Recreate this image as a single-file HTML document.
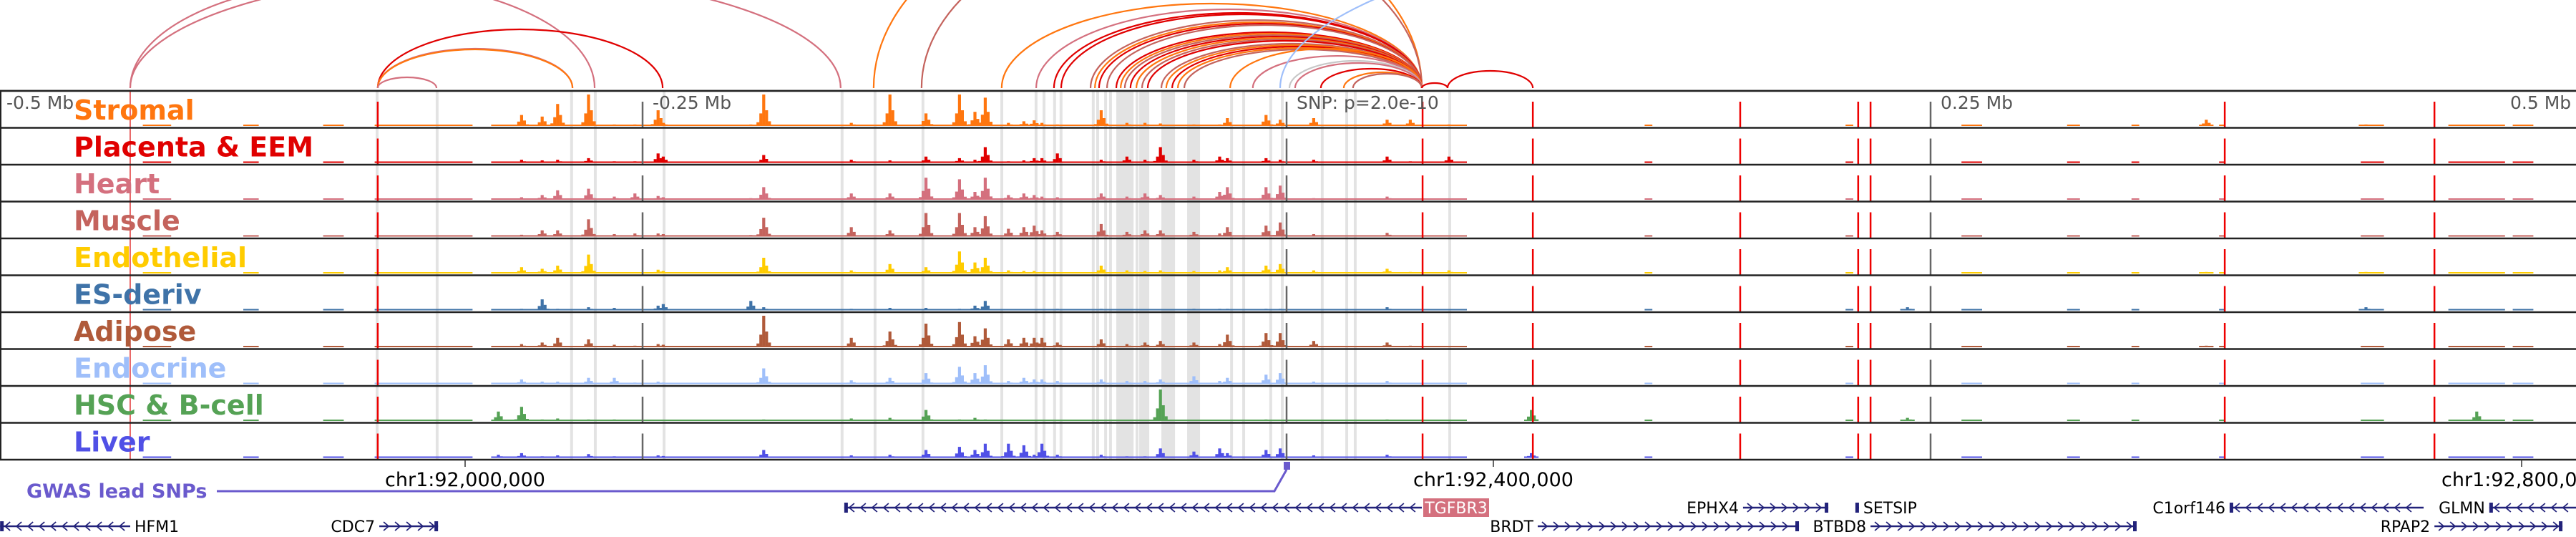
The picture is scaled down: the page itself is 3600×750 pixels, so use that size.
<!DOCTYPE html>
<html><head><meta charset="utf-8"><style>
html,body{margin:0;padding:0;background:#fff;}
svg{display:block;}
text{font-family:"DejaVu Sans","Liberation Sans",sans-serif;}
</style></head><body>
<svg id="chart" width="3600" height="750" viewBox="0 0 3600 750" xmlns="http://www.w3.org/2000/svg">
<g id="bands"></g>
<g id="arcs"></g>
<g id="bars"></g>
<g id="vlines"></g>
<g id="frame"></g>
<g id="labels"></g>
<g id="bottom"></g>
</svg>
<script>
// ---- data ----
const trackNames = ["Stromal","Placenta & EEM","Heart","Muscle","Endothelial","ES-deriv","Adipose","Endocrine","HSC & B-cell","Liver"];
const peakPos = [-306,-297,-289,-283,-271,-261,-253,-244,-242,-208,-203,-169,-154,-140,-127,-121,-117,-108,-102,-98,-95,-89,-72,-62,-55,-49,-36,-26,-23,-8,-2.5,10.5,39,48,63,95,241,357,419,462];
const stromal = [.02,.35,.3,.7,1,.05,.05,.5,.1,.05,1,.1,1,.4,1,.45,.9,.1,.15,.18,.1,.05,.5,.1,.1,.08,.05,.05,.25,.35,.2,.25,.2,.2,.05,0,0,.2,.05,.03];
const placenta = [.02,.1,.08,.1,.15,.05,.05,.3,.2,.02,.25,.1,.08,.2,.15,.1,.5,.05,.08,.15,.15,.3,.1,.2,.1,.5,.1,.2,.15,.15,.1,.1,.2,.05,.2,0,0,0,0,0];
const heart = [.03,.08,.15,.3,.35,.1,.2,.12,.08,.05,.4,.2,.2,.7,.65,.25,.7,.15,.2,.15,.1,.08,.2,.1,.2,.15,.1,.25,.4,.4,.45,.05,.1,.03,.03,0,0,0,0,0];
const muscle = [.03,.06,.2,.2,.55,.08,.1,.1,.08,.05,.6,.3,.2,.75,.75,.3,.65,.25,.3,.35,.2,.15,.4,.15,.2,.2,.15,.1,.3,.35,.45,.08,.12,.03,.03,0,0,0,0,0];
const endothelial = [.02,.2,.15,.25,.6,.03,.03,.12,.08,.02,.5,.1,.3,.2,.7,.35,.5,.1,.08,.08,.05,.03,.25,.1,.08,.1,.08,.1,.2,.25,.3,.1,.15,.05,.1,0,0,.05,.05,0];
const esDeriv = [.03,.05,.35,.05,.1,.08,.03,.15,.2,.3,.1,.05,.08,.08,.05,.15,.3,.03,.03,.03,.03,.05,.05,.03,.03,.03,.05,.05,.05,.05,.05,.03,.1,.03,.03,0,.1,0,.1,0];
const adipose = [.03,.1,.15,.3,.25,.08,.05,.1,.08,.03,1,.3,.5,.75,.8,.35,.6,.25,.3,.3,.3,.15,.25,.1,.15,.2,.15,.1,.4,.45,.45,.2,.15,.05,.03,0,0,.05,0,0];
const endocrine = [.03,.15,.08,.08,.2,.2,.05,.08,.05,.03,.5,.12,.2,.35,.55,.35,.6,.1,.2,.15,.15,.1,.15,.1,.1,.15,.25,.1,.2,.3,.35,.08,.1,.03,.03,0,0,0,0,0];
const hsc = [.3,.45,.05,.08,.05,.05,.03,.03,.03,.02,.05,.08,.1,.35,.05,.1,.05,.03,.03,.03,.03,.02,.03,.03,.03,1,.03,.03,.03,.05,.03,.03,.05,.03,.03,.35,.1,0,0,.3];
const liver = [.1,.15,.05,.08,.12,.05,.03,.08,.06,.02,.25,.08,.1,.25,.35,.25,.45,.45,.4,.1,.45,.1,.1,.05,.05,.3,.2,.3,.15,.25,.3,.08,.1,.03,.03,.15,0,0,0,0];
const bgStart = [-444,-405,-374,-354,-308,139,217,262,303,328,362,417,451,476];
const bgEnd   = [-433,-399,-366,-316,70,142,220,270,308,331,364,426,473,484];
const bandStart = [-353.6,-330.3,-278.1,-268.9,-242.2,-173.1,-160.3,-141.7,-111.1,-97.8,-94.7,-90.6,-88.1,-75.6,-73.9,-70.8,-68.9,-66.1,-58.6,-57.2,-48.6,-38.6,-21.9,-17.2,-6.7,-2.2,13.3,22.8,26.1,62.8];
const bandEnd   = [-352.5,-329.2,-277.0,-267.8,-241.1,-172.0,-159.2,-140.6,-110.0,-96.7,-93.6,-89.5,-87.0,-74.5,-72.8,-69.7,-67.8,-59.4,-57.5,-53.3,-43.3,-33.6,-20.8,-16.1,-5.6,-1.1,14.4,23.9,27.2,63.9];
const redLines = [-352.8,52.8,95.6,176.1,221.9,226.7,364.2,445.6];
const grayLines = [-250,0,250];
const arcStart = [-448.9,-448.9,-352.8,-352.8,-352.8,-352.8,-160.3,-141.7,-110.6,-97.2,-90.3,-87.5,-76.1,-74.4,-72.8,-69.7,-66.1,-64.4,-62.8,-60.6,-58.3,-56.1,-53.9,-48.6,-46.7,-44.4,-42.2,-39.7,-21.9,-13.1,1.1,3.3,13.3,22.2,25.8,52.5,62.5,-2.5];
const arcEnd   = [-268.6,-173.1,-242.2,-277.2,-277.2,-330,52.5,52.5,52.5,52.5,52.5,52.5,52.5,52.5,52.5,52.5,52.5,52.5,52.5,52.5,52.5,52.5,52.5,52.5,52.5,52.5,52.5,52.5,52.5,52.5,52.5,52.5,52.5,52.5,52.5,62.5,95.6,553];
const arcScore = [150,160,82,55,54,15,260,230,118,110,105,103,95,92,90,88,78,76,74,72,70,68,66,62,60,58,56,54,55,45,38,35,27,22,20,7,24,250];
const arcTissue = [2,2,1,2,0,2,0,3,0,2,1,1,3,0,1,3,1,0,3,1,0,3,1,3,0,1,0,3,0,2,10,2,1,0,3,1,1,7];
const axisTicks = [92000000,92400000,92800000];
const axisLabels = ["chr1:92,000,000","chr1:92,400,000","chr1:92,800,000"];
const topTickKb = [-500,-250,0,250,500];
const topTickLabels = ["-0.5 Mb","-0.25 Mb","SNP: p=2.0e-10","0.25 Mb","0.5 Mb"];
const geneNames = ["TGFBR3","EPHX4","SETSIP","C1orf146","GLMN","HFM1","CDC7","BRDT","BTBD8","RPAP2"];
const geneStart = [-171.7,177.2,221.1,366.1,466.9,-499.4,-352.2,97.5,226.7,445.6];
const geneEnd   = [52.5,210.3,222.2,441.4,501.0,-448.9,-329.4,198.9,330.0,495.3];
const geneStrand = [-1,1,1,-1,-1,-1,1,1,1,1];
const geneRow = [0,0,0,0,0,1,1,1,1,1];
const snpKb = [0];

// ---- scales ----
const SNPX = 1798, PXKB = 3.6;
const x = kb => SNPX + kb * PXKB;
const xg = pos => 650 + (pos - 92000000) / 1e6 * 3592.5;
const TOP = 127, TH = 51.5, NT = 10, MAXH = 44;
const trackTop = i => TOP + i * TH;
const colors = ["#ff760f","#e00000","#d4707e","#c4635d","#ffcc00","#3f73a8","#b05a3a","#9fbffa","#55a255","#5050e6"];
const arcColors = colors.concat(["#c8c8c8"]);
const series = [stromal,placenta,heart,muscle,endothelial,esDeriv,adipose,endocrine,hsc,liver];
const NS = "http://www.w3.org/2000/svg";
function mk(tag, parent, attrs){ const e=document.createElementNS(NS,tag); for(const k in attrs) e.setAttribute(k,attrs[k]); parent.appendChild(e); return e; }
const gB=document.getElementById('bands'), gA=document.getElementById('arcs'), gR=document.getElementById('bars'),
      gV=document.getElementById('vlines'), gF=document.getElementById('frame'), gL=document.getElementById('labels'),
      gBot=document.getElementById('bottom');
const BOT = TOP + NT*TH;

// bands
for(let i=0;i<bandStart.length;i++){
  const r=mk('rect',gB,{x:x(bandStart[i]),y:TOP,width:Math.max(2.5,x(bandEnd[i])-x(bandStart[i])),height:BOT-TOP,fill:'#e3e3e3'});
  
  
}
// arcs
for(let i=0;i<arcStart.length;i++){
  const x1=x(arcStart[i]), x2=x(arcEnd[i]), y=123;
  const p=mk('path',gA,{d:`M${x1},${y} A${(x2-x1)/2},${arcScore[i]} 0 0 1 ${x2},${y}`,fill:'none',stroke:arcColors[arcTissue[i]],'stroke-width':2.2});
  
  
}
// bars
const offs=[-8,-4,0,4,8], facs=[.12,.4,1,.5,.15];
for(let t=0;t<NT;t++){
  const base=trackTop(t)+TH-2.5;
  const g=mk('g',gR,{fill:colors[t]});
  
  
  for(let s=0;s<bgStart.length;s++){
    mk('rect',g,{x:x(bgStart[s]),y:base-2,width:x(bgEnd[s])-x(bgStart[s]),height:2});
  }
  for(let p=0;p<peakPos.length;p++){
    const v=series[t][p]; if(!v) continue;
    for(let k=0;k<offs.length;k++){
      const h=Math.max(2,v*facs[k]*MAXH);
      const b=mk('rect',g,{x:x(peakPos[p])+offs[k]-2,y:base-h,width:4.2,height:h});
      
      
    }
  }
}
// vertical lines
function dashed(kb,color,w){
  const l=mk('line',gV,{x1:x(kb),x2:x(kb),y1:TOP,y2:BOT,stroke:color,'stroke-width':w,'stroke-dasharray':'36 15.5','stroke-dashoffset':'-15'});
  return l;
}
redLines.forEach(k=>{const l=dashed(k,'#ee0000',2.5);  });
grayLines.forEach(k=>{const l=dashed(k,'#666',2.5);  });
const sl=mk('line',gV,{x1:x(-448.9),x2:x(-448.9),y1:TOP,y2:BOT,stroke:'#e03030','stroke-width':1.5});


// frames
mk('line',gF,{x1:0,x2:3600,y1:TOP-1.5,y2:TOP-1.5,stroke:'#ccc','stroke-width':1});
for(let i=0;i<=NT;i++){
  const l=mk('line',gF,{x1:0,x2:3600,y1:TOP+i*TH,y2:TOP+i*TH,stroke:'#222','stroke-width':2.5});
  
  
}
mk('line',gF,{x1:1,x2:1,y1:TOP,y2:BOT,stroke:'#222','stroke-width':2});
// top tick labels
for(let i=0;i<topTickKb.length;i++){
  let tx=x(topTickKb[i])+ (i===0?11:(i===4?-90:14));
  const t=mk('text',gL,{x:tx,y:TOP+25,'font-size':25,fill:'#555'});
  t.textContent=topTickLabels[i];
  
  
}
// track labels
for(let i=0;i<NT;i++){
  const t=mk('text',gL,{x:103,y:trackTop(i)+40,'font-size':38,'font-weight':'bold',fill:colors[i]});
  t.textContent=trackNames[i];
  
  
}
// genome axis
for(let i=0;i<axisTicks.length;i++){
  const gx=xg(axisTicks[i]);
  mk('line',gBot,{x1:gx,x2:gx,y1:BOT,y2:BOT+10,stroke:'#333','stroke-width':1.5});
  const t=mk('text',gBot,{x:gx,y:BOT+37,'font-size':27,'text-anchor':'middle',fill:'#000'});
  t.textContent=axisLabels[i];
  
  
}
// GWAS
const gw=mk('text',gBot,{x:37,y:695,'font-size':27,'font-weight':'bold',fill:'#6a5acd'});
gw.textContent='GWAS lead SNPs';


snpKb.forEach(k=>{
  const sx=x(k);
  const p=mk('path',gBot,{d:`M303,686 L${sx-17},686 L${sx},656`,fill:'none',stroke:'#6a5acd','stroke-width':3});
  
  
  const m=mk('rect',gBot,{x:sx-4,y:645,width:9,height:11,fill:'#6a5acd'});
  
  
});
// genes
const rowY=[709,735];
for(let i=0;i<geneNames.length;i++){
  const y=rowY[geneRow[i]], x1=Math.max(0,x(geneStart[i])), x2=Math.min(3600,x(geneEnd[i]));
  const g=mk('g',gBot,{});
  
  
  mk('line',g,{x1:x1,x2:x2,y1:y,y2:y,stroke:'#22227a','stroke-width':2.5});
  let d='';
  for(let cx=x1+10;cx<x2-6;cx+=16){
    d+= geneStrand[i]<0 ? `M${cx+4},${y-6} L${cx-3},${y} L${cx+4},${y+6} ` : `M${cx-4},${y-6} L${cx+3},${y} L${cx-4},${y+6} `;
  }
  mk('path',g,{d:d,fill:'none',stroke:'#22227a','stroke-width':1.8});
  mk('rect',g,{x:(geneStrand[i]<0?x1:x2-5),y:y-7,width:5,height:14,fill:'#22227a'});
  let lx, anchor;
  if(i===0){
    mk('rect',g,{x:x2+2,y:y-13,width:92,height:26,fill:'#d4707e'});
    lx=x2+48; anchor='middle';
    const t=mk('text',g,{x:lx,y:y+8,'font-size':22,'text-anchor':anchor,fill:'#fff'}); t.textContent=geneNames[i];
    continue;
  }
  if(geneNames[i]==='HFM1' || geneNames[i]==='SETSIP'){ lx=x2+6; anchor='start'; } else { lx=x1-6; anchor='end'; }
  const t=mk('text',g,{x:lx,y:y+8,'font-size':22,'text-anchor':anchor,fill:'#000'});
  t.textContent=geneNames[i];
}
</script>
</body></html>
